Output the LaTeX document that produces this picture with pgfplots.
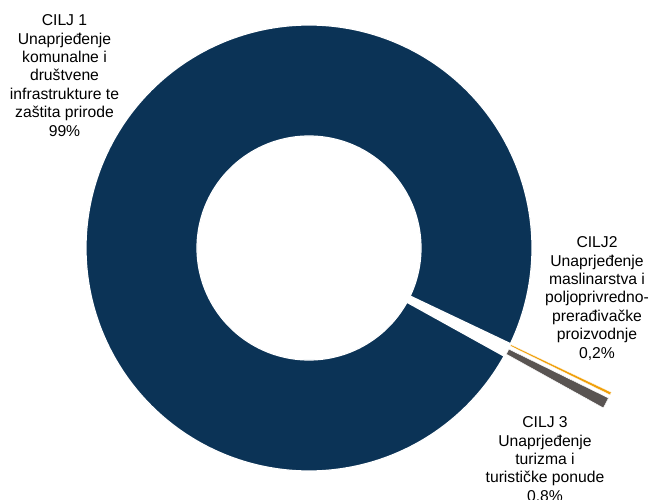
\documentclass[border=0pt]{standalone}
\usepackage{fontspec}
\setmainfont{Liberation Sans}
\usepackage{pgfplots}
\usepackage{pgfplotstable}
\pgfplotsset{compat=1.18}
\definecolor{navy}{RGB}{11,51,86}
\definecolor{gold}{RGB}{240,160,10}
\definecolor{dgray}{RGB}{89,84,82}
\newcommand\lbl{\fontsize{15.7bp}{18.4bp}\selectfont}

% shares in percent
\pgfplotstableread{
id value
1 99
2 0.2
3 0.8
}\shares

% outer radius, inner radius, explosion (bp), start angle (math degrees, clockwise slices)
\def\Ro{223}\def\Ri{112}\def\Ex{112}\def\St{-29}

% \slice{start}{end}{dx}{dy}{colour}{border width}
\newcommand\slice[6]{%
  \addplot[fill=#5, draw=white, line width=#6, line join=round, mark=none,
    samples at={0,1,...,400,1000,1001,...,1400}, variable=\t]
  ({#3 + ifthenelse(\t<500,\Ro,\Ri)*cos(ifthenelse(\t<500,#1+(#2-#1)*\t/400,#2-(#2-#1)*(\t-1000)/400))},
   {#4 + ifthenelse(\t<500,\Ro,\Ri)*sin(ifthenelse(\t<500,#1+(#2-#1)*\t/400,#2-(#2-#1)*(\t-1000)/400))}) -- cycle;
}

\begin{document}%
\begin{tikzpicture}
\pgfplotstablegetelem{0}{value}\of\shares \let\vA\pgfplotsretval
\pgfplotstablegetelem{1}{value}\of\shares \let\vB\pgfplotsretval
\pgfplotstablegetelem{2}{value}\of\shares \let\vC\pgfplotsretval
\pgfmathsetmacro\aA{\St}
\pgfmathsetmacro\bA{\aA-3.6*\vA}
\pgfmathsetmacro\bB{\bA-3.6*\vB}
\pgfmathsetmacro\bC{\bB-3.6*\vC}
\pgfmathsetmacro\mB{(\bA+\bB)/2}
\pgfmathsetmacro\mC{(\bB+\bC)/2}
\pgfmathsetmacro\dxB{\Ex*cos(\mB)}
\pgfmathsetmacro\dyB{\Ex*sin(\mB)}
\pgfmathsetmacro\dxC{\Ex*cos(\mC)}
\pgfmathsetmacro\dyC{\Ex*sin(\mC)}
\begin{axis}[
  scale only axis, width=650bp, height=499bp,
  xmin=-309, xmax=341, ymin=-251, ymax=248,
  hide axis, clip=true]
\slice{\aA}{\bA}{0}{0}{navy}{1.2bp}
\slice{\bB}{\bC}{\dxC}{\dyC}{dgray}{0.5bp}
\slice{\bA}{\bB}{\dxB}{\dyB}{gold}{0.3bp}
\node[align=center, font=\lbl, inner sep=0pt] at (axis cs:-244.5,172.5)
  {CILJ 1\\Unaprjeđenje\\komunalne i\\društvene\\infrastrukture te\\zaštita prirode\\99\%};
\node[align=center, font=\lbl, inner sep=0pt] at (axis cs:288,-50.5)
  {CILJ2\\Unaprjeđenje\\maslinarstva i\\poljoprivredno-\\prerađivačke\\proizvodnje\\0,2\%};
\node[align=center, font=\lbl, inner sep=0pt] at (axis cs:236,-211)
  {CILJ 3\\Unaprjeđenje\\turizma i\\turističke ponude\\0.8\%};
\end{axis}
\pgfresetboundingbox
\useasboundingbox (current axis.south west) rectangle (current axis.north east);
\end{tikzpicture}%
\end{document}
